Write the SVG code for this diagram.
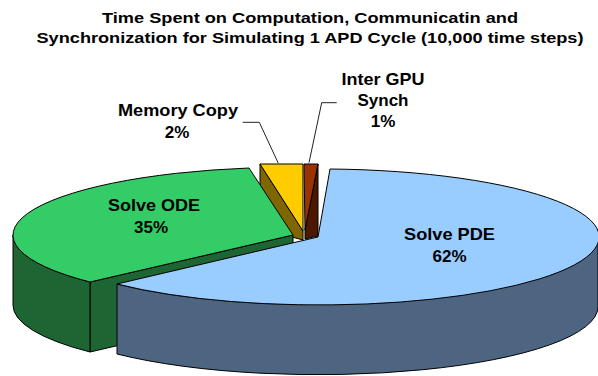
<svg xmlns="http://www.w3.org/2000/svg" width="598" height="376" viewBox="0 0 598 376">
<style>
.t{font-family:"Liberation Sans",Arial,sans-serif;font-weight:bold;fill:#000;text-anchor:middle}
.title{font-size:15px}
.lbl{font-size:17px}
.edge{stroke:#000;stroke-width:1;stroke-linejoin:round}
.lead{fill:none;stroke:#222;stroke-width:1}
</style>
<rect width="598" height="376" fill="#fff"/>
<g id="title">
<text class="t title" x="310" y="22.5" textLength="416" lengthAdjust="spacingAndGlyphs">Time Spent on Computation, Communicatin and</text>
<text class="t title" x="310" y="42.5" textLength="547" lengthAdjust="spacingAndGlyphs">Synchronization for Simulating 1 APD Cycle (10,000 time steps)</text>
</g>
<g id="memory-copy">
<polygon class="edge" fill="#806600" points="260,164 303,231 303,240 292,237 260,187"/>
<polygon class="edge" fill="#FFCC00" points="260,164 303,164 303,231"/>
<text class="t lbl" x="178" y="116" textLength="120" lengthAdjust="spacingAndGlyphs">Memory Copy</text>
<text class="t lbl" x="177" y="138">2%</text>
</g>
<g id="inter-gpu-synch">
<polygon class="edge" fill="#4C1900" points="318,164 318,236 305,239 305,230"/>
<polygon class="edge" fill="#993300" points="304,164 318,164 305,230"/>
<text class="t lbl" x="383" y="85" textLength="83" lengthAdjust="spacingAndGlyphs">Inter GPU</text>
<text class="t lbl" x="383" y="106">Synch</text>
<text class="t lbl" x="383" y="127">1%</text>
</g>
<g id="solve-ode">
<path class="edge" fill="#1D6633" d="M293,235 L90,282 L90,352 L293,305 Z"/>
<path class="edge" fill="#1D6633" d="M90,282 A280,68 0 0,1 13,235 L13,305 A280,68 0 0,0 90,352 Z"/>
<path class="edge" fill="#33CC66" d="M293,235 L90,282 A280,68 0 0,1 249,168 Z"/>
<text class="t lbl" x="154" y="211" textLength="92" lengthAdjust="spacingAndGlyphs">Solve ODE</text>
<text class="t lbl" x="151" y="233">35%</text>
</g>
<g id="solve-pde">
<path class="edge" fill="#4D6580" d="M598,237 A280,68 0 0,1 117,284 L117,354 A280,68 0 0,0 598,307 Z"/>
<path class="edge" fill="#99CCFF" d="M318,237 L330,169 A280,68 0 1,1 117,284 Z"/>
<text class="t lbl" x="449.5" y="240" textLength="91" lengthAdjust="spacingAndGlyphs">Solve PDE</text>
<text class="t lbl" x="449.5" y="262">62%</text>
</g>
<g id="connectors">
<polyline class="lead" points="242.7,122.3 259.3,122.3 278.3,163.3"/>
<polyline class="lead" points="336.7,102.7 321.7,102.7 309,162.7"/>
</g>
</svg>
